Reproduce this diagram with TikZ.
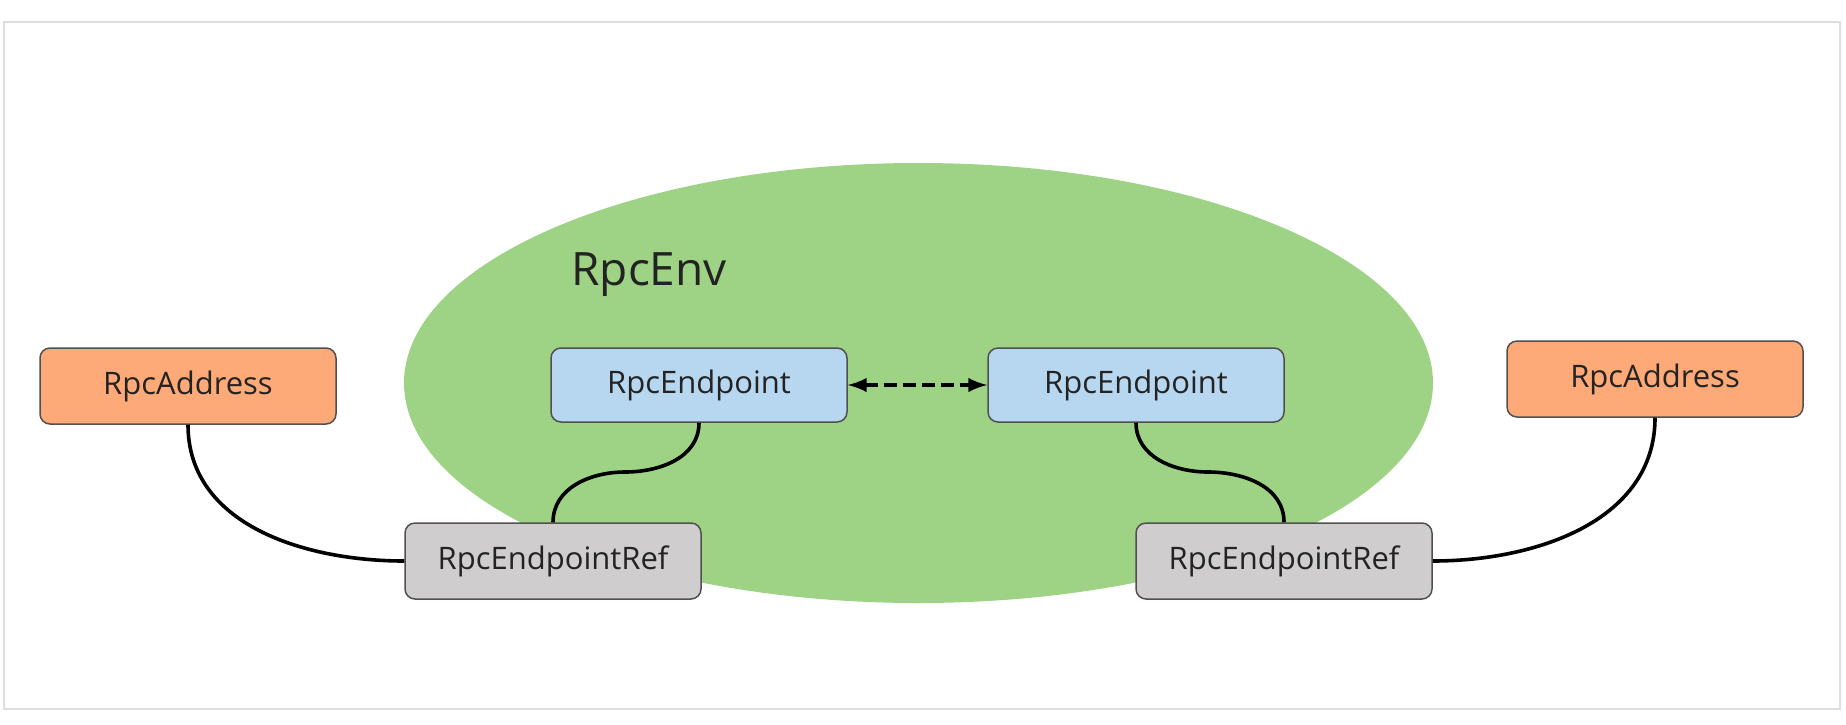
\documentclass[tikz,border=0pt]{standalone}
\usepackage{fontspec}
\setmainfont{Open Sans}
\usetikzlibrary{arrows}
\definecolor{envgreen}{RGB}{158,211,133}
\definecolor{addrorange}{RGB}{253,170,120}
\definecolor{epblue}{RGB}{183,215,240}
\definecolor{refgray}{RGB}{207,205,206}
\definecolor{boxline}{RGB}{80,80,80}
\definecolor{framegray}{RGB}{222,222,222}
\definecolor{txt}{RGB}{35,35,35}

\begin{document}
\begin{tikzpicture}[x=0.5pt,y=-0.5pt,box/.style={rectangle, rounded corners=5pt, draw=boxline, line width=0.75pt, minimum width=148pt, minimum height=38pt, inner sep=0pt, text=txt, font=\fontsize{15.5}{18}\selectfont}]
    \tikzset{link/.style={draw=black, line width=1.8pt}}
    \useasboundingbox (0,0) rectangle (1846,724);
    \draw[framegray, line width=1pt] (4,22) rectangle (1840,709);
    % the environment
    \fill[envgreen] (918.5,383) ellipse [x radius=514.5, y radius=220];
    \node[anchor=base west, inner sep=0pt, text=txt, font=\fontsize{23}{27}\selectfont] (env) at (571,285) {RpcEnv};

    \node[box, fill=addrorange] (addrL) at (188,386) {RpcAddress};
    \node[box, fill=addrorange] (addrR) at (1655,379) {RpcAddress};
    \node[box, fill=epblue, minimum height=37pt] (epL) at (699,385) {RpcEndpoint};
    \node[box, fill=epblue, minimum height=37pt] (epR) at (1136,385) {RpcEndpoint};
    \node[box, fill=refgray] (refL) at (553,561) {RpcEndpointRef};
    \node[box, fill=refgray] (refR) at (1284,561) {RpcEndpointRef};

    \coordinate (midL) at (625,472);
    \coordinate (midR) at (1208,472);

    \draw[<->, >=latex, line width=2.2pt, dash pattern=on 6.5pt off 3pt] (epL) -- (epR);
    \draw[link] (epL.south) to[out=-90, in=0] (midL) to[out=180, in=90] (refL.north);
    \draw[link] (epR.south) to[out=-90, in=180] (midR) to[out=0, in=90] (refR.north);
    \draw[link] (addrL.south) to[out=-90, in=180] (refL.west);
    \draw[link] (refR.east) to[out=0, in=-90] (addrR.south);
\end{tikzpicture}
\end{document}
